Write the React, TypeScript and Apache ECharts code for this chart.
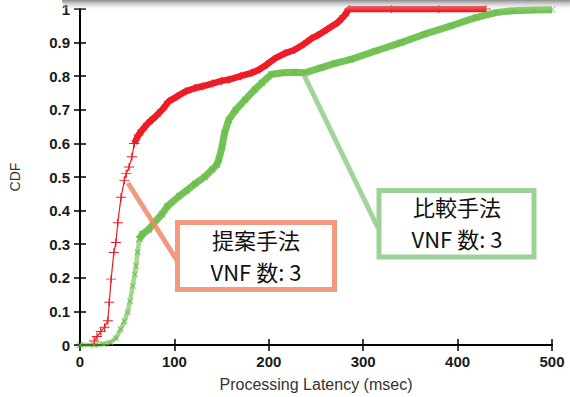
import React, { useEffect, useRef } from "react";
import * as echarts from "echarts";

// Proposed method (red, "+")
const redSparseX = [15, 18, 22, 26, 29.5, 31, 33, 35.8, 38, 40, 43.5, 47, 49, 52, 55, 57.5];
const redSparseY = [0.012, 0.025, 0.04, 0.053, 0.072, 0.127, 0.196, 0.275, 0.305, 0.364, 0.44, 0.49, 0.51, 0.53, 0.56, 0.6];
const redDenseX = [57.5, 62, 66, 72, 80, 87, 94, 103, 112, 122, 130, 140, 150, 158, 170, 182, 190, 198, 206, 217, 227, 237, 245, 252, 262, 273, 280, 285, 330, 380, 430];
const redDenseY = [0.6, 0.625, 0.64, 0.66, 0.68, 0.7, 0.725, 0.74, 0.755, 0.765, 0.77, 0.778, 0.786, 0.79, 0.8, 0.81, 0.82, 0.835, 0.852, 0.868, 0.878, 0.895, 0.912, 0.922, 0.94, 0.96, 0.98, 1, 1, 1, 1];

// Comparison method (green, "x")
const greenSparseX = [0, 15, 25, 32, 38, 43, 47, 50.5, 53, 55.8, 58, 59.3, 61, 62.8];
const greenSparseY = [0, 0, 0.003, 0.008, 0.02, 0.047, 0.07, 0.098, 0.13, 0.176, 0.21, 0.235, 0.276, 0.315];
const greenDenseX = [62.8, 66, 73, 78.6, 87, 92.6, 105, 113, 122, 132, 140, 145, 147, 150.5, 153, 157.6, 165, 175, 185, 192.6, 203, 215, 227, 238, 255, 270, 287, 313, 340, 365, 393, 420, 441.8, 460, 480, 500];
const greenDenseY = [0.315, 0.33, 0.344, 0.364, 0.39, 0.413, 0.443, 0.46, 0.48, 0.5, 0.522, 0.537, 0.552, 0.59, 0.63, 0.67, 0.7, 0.73, 0.76, 0.78, 0.806, 0.81, 0.812, 0.81, 0.825, 0.838, 0.85, 0.875, 0.9, 0.925, 0.95, 0.975, 0.99, 0.995, 0.997, 0.998];

const xName = "Processing Latency (msec)";
const yName = "CDF";
const proposedLabel = ["提案手法", "VNF 数: 3"];
const baselineLabel = ["比較手法", "VNF 数: 3"];

const RED = "#ee1c25";
const GREEN = "#66bb44";
const PLUS = "path://M4.4,0H5.6V4.4H10V5.6H5.6V10H4.4V5.6H0V4.4H4.4Z";

const pairs = (xs: number[], ys: number[]) => xs.map((x, i) => [x, ys[i]]);

export default function App() {
  const ref = useRef<HTMLDivElement>(null);
  useEffect(() => {
    document.body.style.margin = "0";
    const chart = echarts.init(ref.current!, null, { renderer: "svg" });
    const font = "Liberation Sans";
    const cjk = "Noto Sans CJK JP";
    const axisLine = { show: true, lineStyle: { color: "#000", width: 2 } };
    const tick = { show: true, inside: true, length: 6, lineStyle: { color: "#000", width: 1.5 } };
    const calloutText = (x: number, y: number, text: string) => ({
      type: "text", z: 62, x, y,
      style: { text, fontSize: 22, fontFamily: cjk, fill: "#111", align: "center", verticalAlign: "middle" },
    });
    chart.setOption({
      animation: false,
      grid: { left: 77, right: 18, top: 9, bottom: 51 },
      xAxis: [
        {
          type: "value", min: 0, max: 500, interval: 100, position: "bottom",
          axisLine, axisTick: tick, splitLine: { show: false },
          axisLabel: { fontSize: 15, fontWeight: "bold", color: "#1a1a1a", fontFamily: font, margin: 9 },
          name: xName, nameLocation: "middle", nameGap: 31,
          nameTextStyle: { fontSize: 16, color: "#333", fontFamily: font },
        },
        {
          type: "value", min: 0, max: 500, interval: 100, position: "top",
          axisLine, axisTick: tick, splitLine: { show: false }, axisLabel: { show: false },
        },
      ],
      yAxis: [
        {
          type: "value", min: 0, max: 1, interval: 0.1, position: "left",
          axisLine, axisTick: tick, splitLine: { show: false },
          axisLabel: { fontSize: 15, fontWeight: "bold", color: "#1a1a1a", fontFamily: font, margin: 10 },
          name: yName, nameLocation: "middle", nameGap: 58, nameRotate: 90,
          nameTextStyle: { fontSize: 14, color: "#333", fontFamily: font },
        },
        {
          type: "value", min: 0, max: 1, interval: 0.1, position: "right",
          axisLine, axisTick: tick, splitLine: { show: false }, axisLabel: { show: false },
        },
      ],
      series: [
        {
          type: "line", data: pairs(greenSparseX, greenSparseY), z: 2,
          lineStyle: { color: GREEN, width: 4.5, opacity: 0.6 },
          symbol: PLUS, symbolRotate: 45, symbolSize: 8, showAllSymbol: true,
          itemStyle: { color: GREEN, opacity: 0.8 },
        },
        {
          type: "line", data: pairs(redSparseX, redSparseY), z: 3,
          lineStyle: { color: RED, width: 1.2 },
          symbol: PLUS, symbolSize: [10, 8], showAllSymbol: true,
          itemStyle: { color: RED },
        },
        {
          type: "line", data: pairs(redDenseX, redDenseY), z: 3,
          lineStyle: { color: RED, width: 6.5 },
          symbol: PLUS, symbolSize: [10, 8], showAllSymbol: true,
          itemStyle: { color: RED },
        },
        {
          type: "line", data: pairs(greenDenseX, greenDenseY), z: 4,
          lineStyle: { color: GREEN, width: 7, opacity: 0.9 },
          symbol: PLUS, symbolRotate: 45, symbolSize: 9, showAllSymbol: true,
          itemStyle: { color: GREEN, opacity: 0.7 },
        },
      ],
      graphic: [
        {
          type: "rect", z: 50,
          shape: { x: 62, y: 0, width: 508, height: 11, r: [0, 0, 0, 10] },
          style: {
            fill: new echarts.graphic.LinearGradient(0, 0, 0, 1, [
              { offset: 0, color: "rgba(120,120,120,0.85)" },
              { offset: 0.5, color: "rgba(190,190,190,0.45)" },
              { offset: 1, color: "rgba(255,255,255,0)" },
            ]),
          },
        },
        {
          type: "line", z: 60,
          shape: { x1: 128, y1: 183, x2: 178, y2: 262 },
          style: { stroke: "#f08866", lineWidth: 5, opacity: 0.85 },
        },
        {
          type: "rect", z: 61,
          shape: { x: 177.5, y: 222.5, width: 157, height: 67 },
          style: { fill: "#fff", stroke: "#f29a80", lineWidth: 5 },
        },
        calloutText(256, 239, proposedLabel[0]),
        calloutText(256, 271, proposedLabel[1]),
        {
          type: "line", z: 60,
          shape: { x1: 304, y1: 75, x2: 378, y2: 228 },
          style: { stroke: "#8fcc8a", lineWidth: 5, opacity: 0.85 },
        },
        {
          type: "rect", z: 61,
          shape: { x: 379, y: 190.5, width: 155, height: 66.5 },
          style: { fill: "#fff", stroke: "#9bd396", lineWidth: 5 },
        },
        calloutText(457, 206, baselineLabel[0]),
        calloutText(457, 238, baselineLabel[1]),
      ],
    });
    return () => chart.dispose();
  }, []);
  return <div ref={ref} style={{ width: 570, height: 397 }} />;
}
